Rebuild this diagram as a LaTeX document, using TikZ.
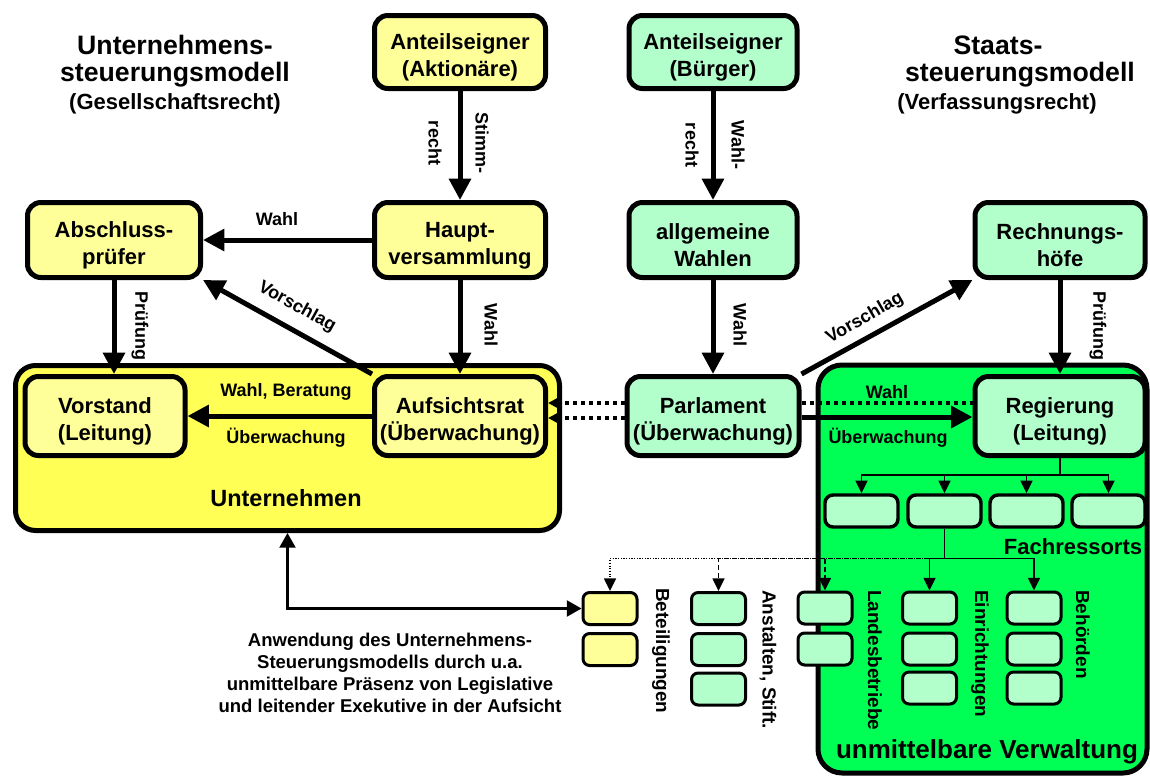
\documentclass[tikz,border=0pt]{standalone}
\usepackage{fontspec}
\setmainfont{Liberation Sans}
\usetikzlibrary{arrows.meta}

% font sizes (1 unit = 0.75pt)
\newcommand{\boxfnt}{\fontsize{16.5pt}{20.25pt}\selectfont\bfseries}
\newcommand{\lblfnt}{\fontsize{13.5pt}{16pt}\selectfont\bfseries}
\newcommand{\vlblfnt}{\fontsize{14.2pt}{17pt}\selectfont\bfseries}
\newcommand{\ttlfnt}{\fontsize{20pt}{22.5pt}\selectfont\bfseries}
\newcommand{\subfnt}{\fontsize{16.5pt}{20pt}\selectfont\bfseries}
\newcommand{\bigfnt}{\fontsize{17.6pt}{20pt}\selectfont\bfseries}
\newcommand{\verwfnt}{\fontsize{19.5pt}{22pt}\selectfont\bfseries}
\newcommand{\notefnt}{\fontsize{13.9pt}{16.5pt}\selectfont\bfseries}
% two-line box caption; the strut lowers the lines a little inside the box
\newcommand{\twoline}[2]{\rule{0pt}{19.5pt}#1\\#2}

\definecolor{paleyellow}{HTML}{FFFF99}
\definecolor{brightyellow}{HTML}{FFFF55}
\definecolor{palegreen}{HTML}{B3FFCC}
\definecolor{brightgreen}{HTML}{00FF55}

\tikzset{
  sz/.style 2 args={minimum width=#1*0.75pt, minimum height=#2*0.75pt},
  box/.style={draw, line width=3.75pt, rounded corners=10pt, inner sep=0pt, align=center, font=\boxfnt},
  ybox/.style={box, fill=paleyellow},
  gbox/.style={box, fill=palegreen},
  bigbox/.style={draw, line width=3.75pt, inner sep=0pt},
  frbox/.style={draw, line width=2.6pt, rounded corners=6pt, fill=palegreen, sz={73}{32}},
  unitbox/.style={draw, line width=2.25pt, rounded corners=5pt, sz={54}{32}},
  lbl/.style={inner sep=0pt, font=\lblfnt},
  vlbl/.style={inner sep=0pt, font=\vlblfnt, rotate=-90, anchor=west},
  flow/.style={line width=3.75pt, -{Triangle[length=16pt,width=16pt]}},
  dotline/.style={line width=3pt, dash pattern=on 3pt off 3pt},
  dotflow/.style={dotline, -{Triangle[length=9pt,width=9pt]}},
  tree/.style={line width=1.1pt, -{Triangle[length=9.5pt,width=9pt]}},
  treedash/.style={tree, dash pattern=on 3.75pt off 2.25pt},
  treedot/.style={tree, dash pattern=on 0.8pt off 1.2pt},
  link/.style={line width=1.7pt, {Triangle[length=11pt,width=12pt]}-{Triangle[length=11pt,width=12pt]}},
}

\begin{document}
\begin{tikzpicture}[x=0.75pt, y=-0.75pt]
\fill[white] (0,0) rectangle (1150,776);
\useasboundingbox (0,0) rectangle (1150,776);

% titles
\node[font=\ttlfnt, inner sep=0pt] (tl1) at (175,45) {Unternehmens-};
\node[font=\ttlfnt, inner sep=0pt] (tl2) at (175,75) {steuerungsmodell};
\node[font=\subfnt, inner sep=0pt] (tl3) at (175,104) {(Gesellschaftsrecht)};
\node[font=\ttlfnt, inner sep=0pt] (tr1) at (998,45) {Staats-};
\node[font=\ttlfnt, inner sep=0pt] (tr2) at (1020,75) {steuerungsmodell};
\node[font=\subfnt, inner sep=0pt] (tr3) at (997,104) {(Verfassungsrecht)};

% enclosing areas
\node[bigbox, fill=brightyellow, rounded corners=15pt, sz={544}{165}] (untern) at (287.5,448) {};
\node[bigbox, fill=brightgreen, rounded corners=18pt, sz={329}{408}] (verw) at (982.5,569) {};
\node[font=\bigfnt, inner sep=0pt] (unternlbl) at (286,498) {Unternehmen};
\node[font=\verwfnt, inner sep=0pt] (verwlbl) at (987,752) {unmittelbare Verwaltung};

% company side
\node[ybox, sz={171}{73}] (aktion) at (460,52) {\twoline{Anteilseigner}{(Aktionäre)}};
\node[ybox, sz={173}{75}] (abschluss) at (114,240) {\twoline{Abschluss-}{prüfer}};
\node[ybox, sz={171}{75}] (haupt) at (460,240) {\twoline{Haupt-}{versammlung}};
\node[ybox, sz={160}{79}] (vorstand) at (105,416) {\twoline{Vorstand}{(Leitung)}};
\node[ybox, sz={171}{79}] (aufsicht) at (460,416) {\twoline{Aufsichtsrat}{(Überwachung)}};

% state side
\node[gbox, sz={168}{73}] (buerger) at (713,52) {\twoline{Anteilseigner}{(Bürger)}};
\node[gbox, sz={168}{75}] (wahlen) at (713,240) {\twoline{allgemeine}{Wahlen}};
\node[gbox, sz={170}{75}] (rechnung) at (1060,240) {\twoline{Rechnungs-}{höfe}};
\node[gbox, sz={172}{79}] (parlament) at (713,416) {\twoline{Parlament}{(Überwachung)}};
\node[gbox, sz={170}{79}] (regierung) at (1060,416) {\twoline{Regierung}{(Leitung)}};

% departments
\node[frbox] (fr1) at (861.5,511) {};
\node[frbox] (fr2) at (944.5,511) {};
\node[frbox] (fr3) at (1026.5,511) {};
\node[frbox] (fr4) at (1108.5,511) {};
\node[font=\subfnt, inner sep=0pt] (frlbl) at (1073,547) {Fachressorts};

% units below the departments
\node[unitbox, fill=paleyellow] (bet1) at (610,608.5) {};
\node[unitbox, fill=paleyellow] (bet2) at (610,649.5) {};
\node[unitbox, fill=palegreen] (anst1) at (718.5,608.5) {};
\node[unitbox, fill=palegreen] (anst2) at (718.5,649.5) {};
\node[unitbox, fill=palegreen] (anst3) at (718.5,689) {};
\node[unitbox, fill=palegreen] (land1) at (825,608) {};
\node[unitbox, fill=palegreen] (land2) at (825,649) {};
\node[unitbox, fill=palegreen] (ein1) at (929.5,608) {};
\node[unitbox, fill=palegreen] (ein2) at (929.5,649) {};
\node[unitbox, fill=palegreen] (ein3) at (929.5,688) {};
\node[unitbox, fill=palegreen] (beh1) at (1034,608) {};
\node[unitbox, fill=palegreen] (beh2) at (1034,649) {};
\node[unitbox, fill=palegreen] (beh3) at (1034,688) {};

\node[vlbl] (betlbl) at (661,588) {Beteiligungen};
\node[vlbl] (anstlbl) at (768,590) {Anstalten, Stift.};
\node[vlbl] (landlbl) at (875,590) {Landesbetriebe};
\node[vlbl] (einlbl) at (980,590) {Einrichtungen};
\node[vlbl] (behlbl) at (1083,590) {Behörden};

% company flows
\draw[flow] (aktion.south) -- (haupt.north);
\node[lbl, rotate=-90] (stimm) at (482,143) {Stimm-};
\node[lbl, rotate=-90] (recht1) at (435,143) {recht};
\draw[flow] (haupt.west) -- (abschluss.east);
\node[lbl] (wahl1) at (277,219) {Wahl};
\draw[flow] (aufsicht.north west) -- (abschluss.south east);
\node[lbl, rotate=-29] (vorschlag1) at (297,307) {Vorschlag};
\draw[flow] (haupt.south) -- (aufsicht.north);
\node[lbl, rotate=-90] (wahl2) at (491,325) {Wahl};
\draw[flow] (abschluss.south) -- (abschluss.south |- vorstand.north);
\node[lbl, rotate=-90] (pruef1) at (140,326) {Prüfung};
\draw[flow] (aufsicht.west) -- (vorstand.east);
\node[lbl] (wahlber) at (286,392) {Wahl, Beratung};
\node[lbl] (ueber1) at (286,438) {Überwachung};

% state flows
\draw[flow] (buerger.south) -- (wahlen.north);
\node[lbl, rotate=-90] (wahlr) at (738,145) {Wahl-};
\node[lbl, rotate=-90] (recht2) at (692,145) {recht};
\draw[flow] (wahlen.south) -- (parlament.north);
\node[lbl, rotate=-90] (wahl3) at (740,325) {Wahl};
\draw[flow] (parlament.north east) -- (rechnung.south west);
\node[lbl, rotate=30] (vorschlag2) at (865,318) {Vorschlag};
\draw[flow] (rechnung.south) -- (regierung.north);
\node[lbl, rotate=-90] (pruef2) at (1098,326) {Prüfung};
\draw[dotline] ([yshift=9.75pt]parlament.east) -- ([yshift=9.75pt]regierung.west);
\draw[flow] ([yshift=-0.75pt]parlament.east) -- ([yshift=-0.75pt]regierung.west);
\node[lbl] (wahl4) at (887,392) {Wahl};
\node[lbl] (ueber2) at (888,438) {Überwachung};

% parliament presence in the supervisory board
\draw[dotflow] ([yshift=9.75pt]parlament.west) -- ([yshift=9.75pt]aufsicht.east);
\draw[dotflow] ([yshift=-1.5pt]parlament.west) -- ([yshift=-1.5pt]aufsicht.east);

% government tree
\draw[line width=1.1pt] (regierung.south) -- ++(0,17) coordinate (tj);
\foreach \n in {fr1,fr2,fr3,fr4} \draw[tree] (tj) -| (\n.north);
\draw[line width=1.1pt] (fr2.south) -- ++(0,30) coordinate (bj);
\draw[tree] (bj) -| (ein1.north);
\draw[tree] (bj) -| (beh1.north);
\draw[treedash] (bj) -| (land1.north);
\draw[treedash] (bj) -| (anst1.north);
\draw[treedot] (bj) -| (bet1.north);

% holdings link
\draw[link] (untern.south) |- (bet1.west);
\node[font=\notefnt, align=center, inner sep=0pt] (note) at (390,673)
  {Anwendung des Unternehmens-\\Steuerungsmodells durch u.a.\\unmittelbare Präsenz von Legislative\\und leitender Exekutive in der Aufsicht};
\end{tikzpicture}
\end{document}
